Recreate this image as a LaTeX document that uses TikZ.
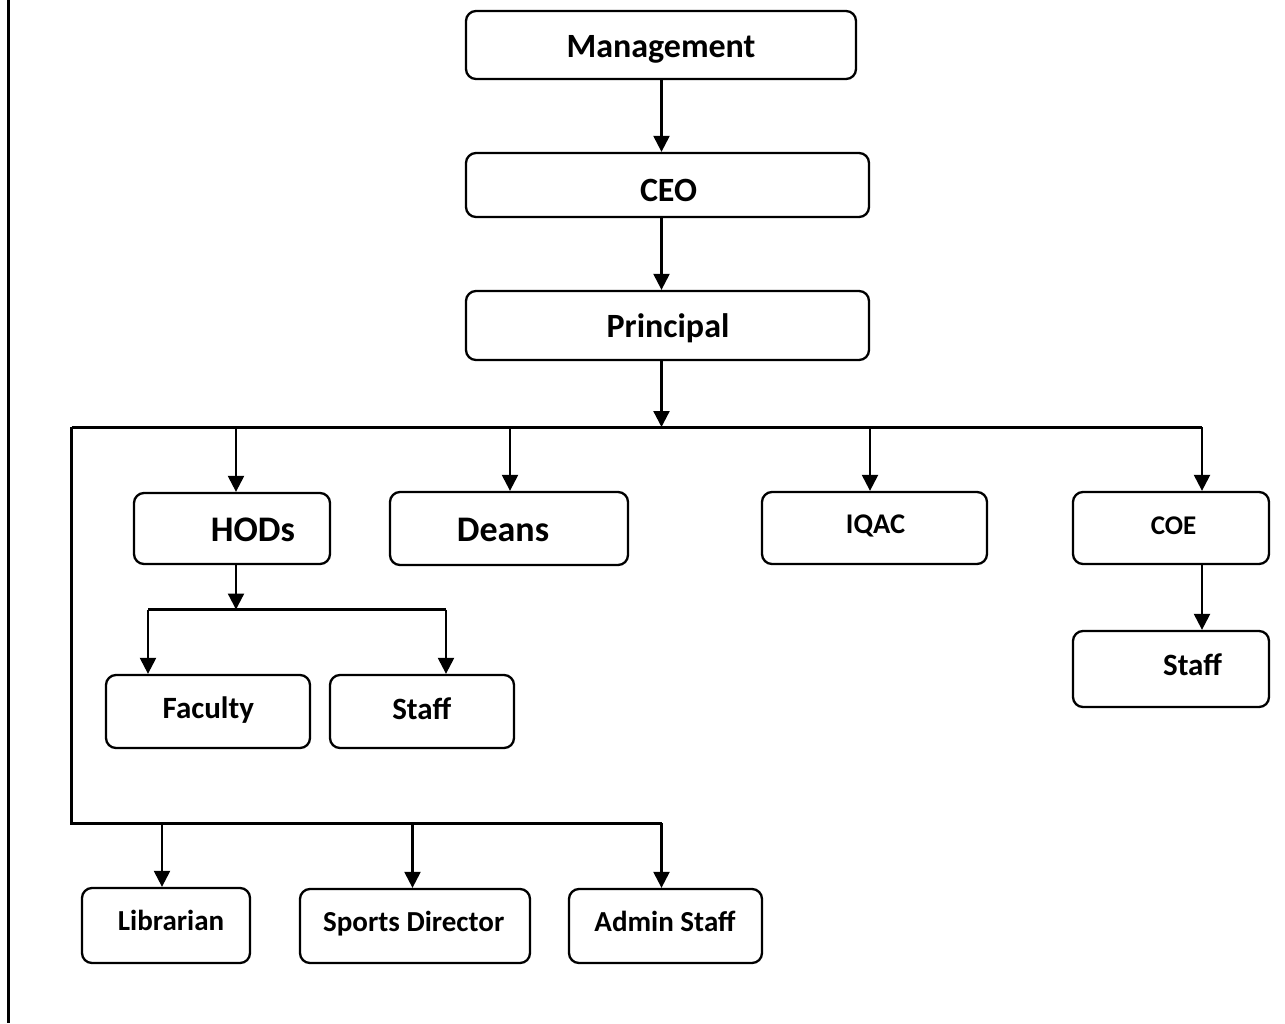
\documentclass[tikz,border=0pt]{standalone}
\usepackage{fontspec}
\setmainfont{Carlito}
\usetikzlibrary{arrows.meta}
\newcommand\fsz[1]{\fontsize{#1}{#1}\selectfont\bfseries}
\begin{document}
\begin{tikzpicture}[x=1pt,y=-1pt,
  box/.style={draw, line width=2.3pt, rounded corners=10pt, inner sep=0pt, fill=white},
  lbl/.style={anchor=base, inner sep=0pt},
  arr/.style={line width=2.3pt, -{Triangle[width=16pt 0,length=16pt 0]}},
  busline/.style={line width=3pt},
]
\useasboundingbox (0,0) rectangle (1285,1023);
\fill[white] (0,0) rectangle (1285,1023);
% left border
\coordinate (bTop) at (8.5,0);
\coordinate (bBot) at (8.5,1023);
\draw[line width=2.2pt] (bTop) -- (bBot);

% boxes
\node[box, minimum width=390pt, minimum height=68pt] (mgmt) at (661,45) {};
\node[box, minimum width=403pt, minimum height=64pt] (ceo) at (667.5,185) {};
\node[box, minimum width=403pt, minimum height=69pt] (prin) at (667.5,325.5) {};
\node[box, minimum width=196pt, minimum height=71pt] (hods) at (232,528.5) {};
\node[box, minimum width=238pt, minimum height=73pt] (deans) at (509,528.5) {};
\node[box, minimum width=225pt, minimum height=72pt] (iqac) at (874.5,528) {};
\node[box, minimum width=196pt, minimum height=72pt] (coe) at (1171,528) {};
\node[box, minimum width=196pt, minimum height=76pt] (coestaff) at (1171,669) {};
\node[box, minimum width=204pt, minimum height=73pt] (fac) at (208,711.5) {};
\node[box, minimum width=184pt, minimum height=73pt] (staff) at (422,711.5) {};
\node[box, minimum width=168pt, minimum height=75pt] (lib) at (166,925.5) {};
\node[box, minimum width=230pt, minimum height=74pt] (sports) at (415,926) {};
\node[box, minimum width=193pt, minimum height=74pt] (admin) at (665.5,926) {};

% labels
\node[lbl, font=\fsz{34}] (mgmt-t) at (661,57) {Management};
\node[lbl, font=\fsz{34}] (ceo-t) at (668.5,201) {CEO};
\node[lbl, font=\fsz{34}] (prin-t) at (668,337.6) {Principal};
\node[lbl, font=\fsz{36}] (hods-t) at (253,541.5) {HODs};
\node[lbl, font=\fsz{36}] (deans-t) at (503,541) {Deans};
\node[lbl, font=\fsz{28.5}] (iqac-t) at (875.5,533.6) {IQAC};
\node[lbl, font=\fsz{27}] (coe-t) at (1173.5,534.6) {COE};
\node[lbl, font=\fsz{31}] (coestaff-t) at (1192.5,675) {Staff};
\node[lbl, font=\fsz{31}] (fac-t) at (208.3,718.7) {Faculty};
\node[lbl, font=\fsz{31}] (staff-t) at (421.7,719) {Staff};
\node[lbl, font=\fsz{29}] (lib-t) at (171,930.6) {Librarian};
\node[lbl, font=\fsz{29}] (sports-t) at (413.7,931) {Sports Director};
\node[lbl, font=\fsz{29}] (admin-t) at (665,931) {Admin Staff};

% bus coordinates
\coordinate (busL) at (71.5,427);
\coordinate (busP) at (661.5,427);
\coordinate (busR) at (1202,427);
\coordinate (botL) at (71.5,823);
\coordinate (botR) at (661.5,823);
\coordinate (tHods) at (236,427);
\coordinate (tDeans) at (510,427);
\coordinate (tIqac) at (870,427);
\coordinate (sub) at (236,609.5);
\coordinate (subL) at (148,609.5);
\coordinate (subR) at (446,609.5);
\coordinate (tLib) at (162,823);
\coordinate (tSports) at (412.5,823);

% top chain
\draw[arr] (mgmt.south -| busP) -- (busP |- ceo.north);
\draw[arr] (ceo.south -| busP) -- (busP |- prin.north);
\draw[arr] (prin.south -| busP) -- (busP);

% buses
\draw[busline] (busL) -- (busR);
\draw[busline, line join=miter] (busL) -- (botL) -- (botR);

% top bus branches
\draw[arr] (tHods) -- (tHods |- hods.north);
\draw[arr] (tDeans) -- (tDeans |- deans.north);
\draw[arr] (tIqac) -- (tIqac |- iqac.north);
\draw[arr] (busR) -- (busR |- coe.north);
\draw[arr] (coe.south -| busR) -- (busR |- coestaff.north);

% HODs sub tree
\draw[arr] (hods.south -| sub) -- (sub);
\draw[line width=2.5pt] (subL) -- (subR);
\draw[arr] (subL) -- (subL |- fac.north);
\draw[arr] (subR) -- (subR |- staff.north);

% bottom bus branches
\draw[arr] (tLib) -- (tLib |- lib.north);
\draw[arr] (tSports) -- (tSports |- sports.north);
\draw[arr] (botR) -- (botR |- admin.north);
\end{tikzpicture}
\end{document}
